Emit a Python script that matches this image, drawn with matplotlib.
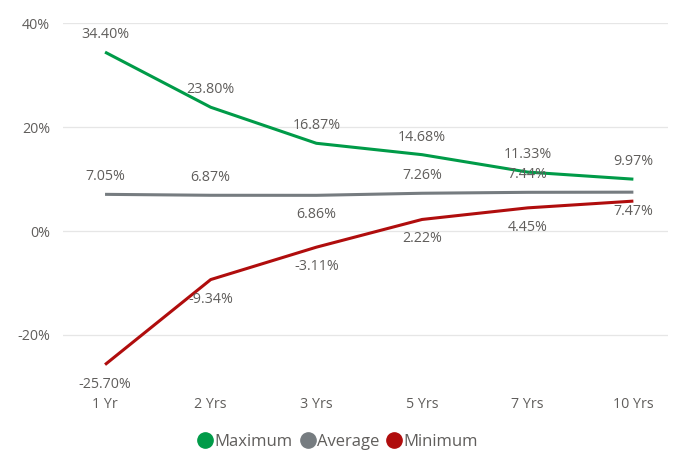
import matplotlib.pyplot as plt
from matplotlib.lines import Line2D
from matplotlib.ticker import FuncFormatter

plt.rcParams['font.family'] = ['Open Sans', 'DejaVu Sans']

periods = ["1 Yr", "2 Yrs", "3 Yrs", "5 Yrs", "7 Yrs", "10 Yrs"]
maximum = [34.40, 23.80, 16.87, 14.68, 11.33, 9.97]
average = [7.05, 6.87, 6.86, 7.26, 7.44, 7.47]
minimum = [-25.70, -9.34, -3.11, 2.22, 4.45, 5.75]
# which data labels are shown, and on which side of the point
max_pos = ["above"] * 6
avg_pos = ["above", "above", "below", "above", "above", "below"]
min_pos = ["below", "below", "below", "below", "below", None]

text_c = "#605E5C"
colors = {"Maximum": "#009B48", "Average": "#767C80", "Minimum": "#B00D0D"}

fig = plt.figure(figsize=(6.75, 4.53), dpi=100)
ax = fig.add_axes([0.093, 0.1457, 0.897, 0.8035])

x = list(range(len(periods)))
for name, vals, pos in [("Maximum", maximum, max_pos),
                        ("Average", average, avg_pos),
                        ("Minimum", minimum, min_pos)]:
    ax.plot(x, vals, color=colors[name], lw=2.2, solid_capstyle="butt", zorder=3)
    for xi, v, p in zip(x, vals, pos):
        if p is None:
            continue
        dy = 12.5 if p == "above" else -14
        ax.annotate(f"{v:.2f}%", (xi, v), xytext=(0, dy), textcoords="offset points",
                    ha="center", va="center", fontsize=10.3, color=text_c, zorder=4)

ax.set_xlim(-0.4, 5.33)
ax.set_ylim(-30, 40)
ax.set_yticks([-20, 0, 20, 40])
ax.yaxis.set_major_formatter(FuncFormatter(lambda v, _: f"{v:.0f}%"))
ax.set_xticks(x)
ax.set_xticklabels(periods)
ax.grid(axis="y", color="#E6E6E6", lw=0.9, zorder=0)
for s in ax.spines.values():
    s.set_visible(False)
ax.tick_params(length=0, labelsize=10.3, labelcolor=text_c)
ax.tick_params(axis="x", pad=7)
ax.tick_params(axis="y", pad=9)

handles = [Line2D([], [], marker="o", ls="", color=c, markersize=11) for c in colors.values()]
fig.legend(handles, list(colors.keys()), loc="center", bbox_to_anchor=(0.5, 0.025),
           ncol=3, frameon=False, fontsize=12, labelcolor=text_c,
           handletextpad=0.05, columnspacing=0.4, handlelength=1.0)

fig.savefig("out.png", dpi=100)
